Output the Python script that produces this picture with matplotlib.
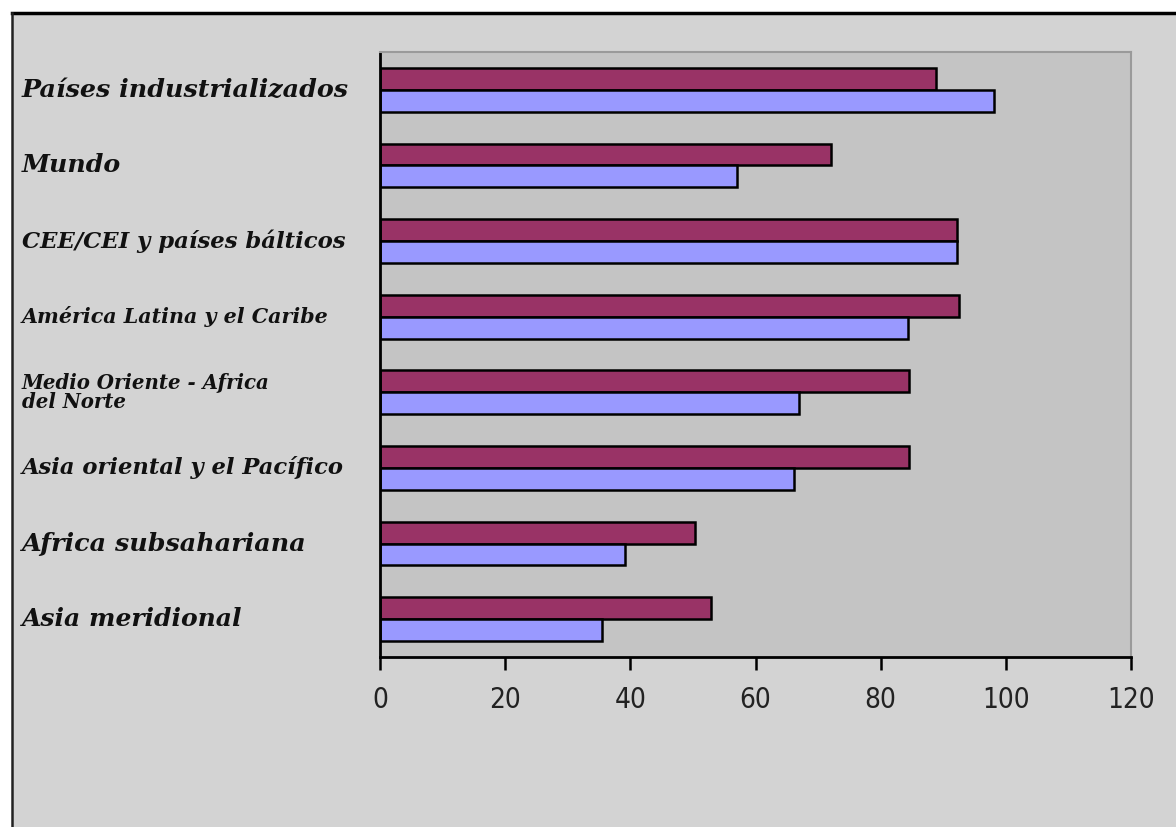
import numpy as np
import matplotlib.pyplot as plt
from matplotlib.lines import Line2D
from matplotlib.patches import Rectangle
import matplotlib.transforms as mtransforms

# Data (top to bottom)
categories = [
    "Países industrializados",
    "Mundo",
    "CEE/CEI y países bálticos",
    "América Latina y el Caribe",
    "Medio Oriente - Africa\ndel Norte",
    "Asia oriental y el Pacífico",
    "Africa subsahariana",
    "Asia meridional",
]
serie_granate = [88.9, 72.0, 92.2, 92.5, 84.6, 84.6, 50.3, 52.9]
serie_azul = [98.1, 57.0, 92.2, 84.3, 66.9, 66.1, 39.2, 35.4]
x_ticks = [0, 20, 40, 60, 80, 100, 120]

# label font sizes (style only)
label_pt = [18.3, 18.2, 16.4, 14.9, 14.2, 16.3, 18.3, 18.0]

W, H = 1176, 827
fig = plt.figure(figsize=(W / 100, H / 100), dpi=100)
fig.patch.set_facecolor("white")

# outer chart frame
fig.patches.append(Rectangle((12 / W, 0), 1, 1 - 13 / H, transform=fig.transFigure,
                             facecolor="#d3d3d3", edgecolor="none", zorder=-5))
fig.lines.append(Line2D([12 / W, 1], [1 - 13 / H, 1 - 13 / H], transform=fig.transFigure,
                        color="black", lw=2.5))
fig.lines.append(Line2D([12 / W, 12 / W], [0, 1 - 13 / H], transform=fig.transFigure,
                        color="#222222", lw=1.8))

ax = fig.add_axes([380 / W, 1 - 657 / H, (1131 - 380) / W, (657 - 52) / H])
ax.set_facecolor("#c4c4c4")

y = np.arange(len(categories))
h = 0.29
ax.barh(y - h / 2, serie_granate, height=h, color="#993366", edgecolor="black", linewidth=1.8)
ax.barh(y + h / 2, serie_azul, height=h, color="#9999ff", edgecolor="black", linewidth=1.8)

ax.set_xlim(0, 120)
ax.set_ylim(len(categories) - 0.5, -0.5)
ax.set_xticks(x_ticks)
ax.set_xticklabels([str(t) for t in x_ticks], fontsize=20, color="#222222",
                   family="DejaVu Sans", fontstretch="condensed")
ax.tick_params(axis="x", direction="out", length=9, width=1.8, pad=12, color="black")
ax.set_yticks([])

ax.spines["left"].set_linewidth(2)
ax.spines["bottom"].set_linewidth(2)
ax.spines["top"].set_color("#9a9a9a")
ax.spines["right"].set_color("#9a9a9a")
ax.spines["top"].set_linewidth(1.5)
ax.spines["right"].set_linewidth(1.5)

# category labels, left-aligned near the frame
trans = mtransforms.blended_transform_factory(fig.transFigure, ax.transData)
for yi, name, size in zip(y, categories, label_pt):
    ax.text(22 / W, yi, name, transform=trans, ha="left", va="center",
            fontsize=size, family="DejaVu Serif", weight="bold", style="italic",
            color="#111111", linespacing=0.9, clip_on=False)

fig.savefig("out.png", dpi=100)
